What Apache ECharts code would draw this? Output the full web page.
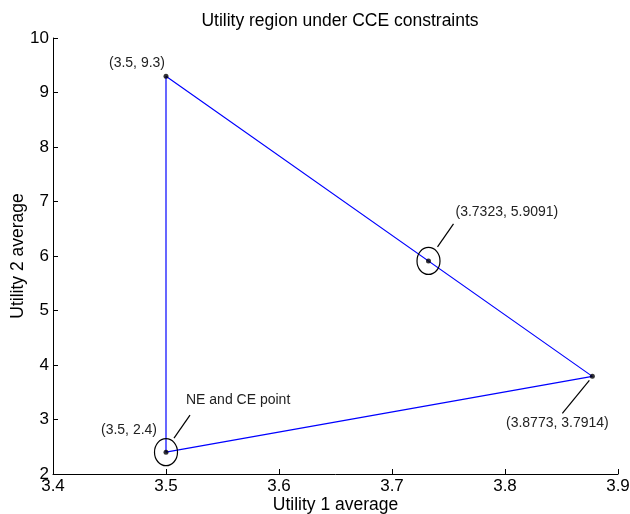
<!DOCTYPE html>
<html>
<head>
<meta charset="utf-8">
<script src="https://cdn.jsdelivr.net/npm/echarts@6/dist/echarts.min.js"></script>
<style>html,body{margin:0;padding:0;background:#fff}#c{width:630px;height:514px}</style>
</head>
<body>
<div id="c"></div>
<script>
// Data
const triangleX = [3.5, 3.8773, 3.5, 3.5];
const triangleY = [9.3, 3.7914, 2.4, 9.3];
const pointX = [3.5, 3.8773, 3.5, 3.7323];
const pointY = [9.3, 3.7914, 2.4, 5.9091];
const pointLabels = ['(3.5, 9.3)', '(3.8773, 3.7914)', '(3.5, 2.4)', '(3.7323, 5.9091)'];
const noteX = [3.5];
const noteY = [2.4];
const noteLabels = ['NE and CE point'];
const xTicks = [3.4, 3.5, 3.6, 3.7, 3.8, 3.9];
const yTicks = [2, 3, 4, 5, 6, 7, 8, 9, 10];

const FONT = 'Liberation Sans, Arial, Helvetica, sans-serif';

// per-point annotation styles (pixel offsets)
const annStyle = [
  { ellipse: false, line: null, text: [-29, -13], align: 'center' },
  { ellipse: false, line: [-3, 4, -30, 37], text: [-35, 47], align: 'center' },
  { ellipse: true,  line: null, text: [-37, -22], align: 'center' },
  { ellipse: true,  line: [9, -14, 25, -37], text: [27, -49], align: 'left' }
];
const noteStyle = [{ line: [8, -14, 24, -37], text: [20, -52], align: 'left' }];

const chart = echarts.init(document.getElementById('c'), null, { renderer: 'canvas' });

function annItem(params, api, st, label) {
  const p = api.coord([api.value(0), api.value(1)]);
  const children = [];
  if (st.ellipse) {
    children.push({ type: 'ellipse', shape: { cx: p[0], cy: p[1], rx: 11.5, ry: 13.5 },
      style: { fill: null, stroke: '#000', lineWidth: 1.2 } });
  }
  if (st.line) {
    children.push({ type: 'line', shape: { x1: p[0] + st.line[0], y1: p[1] + st.line[1], x2: p[0] + st.line[2], y2: p[1] + st.line[3] },
      style: { stroke: '#000', lineWidth: 1.2 } });
  }
  children.push({ type: 'text', x: p[0] + st.text[0], y: p[1] + st.text[1],
    style: { text: label, fill: '#222', font: '14px ' + FONT, textAlign: st.align, textVerticalAlign: 'middle' } });
  return { type: 'group', children };
}

const option = {
  animation: false,
  backgroundColor: '#fff',
  title: { text: 'Utility region under CCE constraints', left: 335, textAlign: 'center', top: 7,
    textStyle: { fontSize: 17.5, fontWeight: 'normal', color: '#000', fontFamily: FONT } },
  grid: { left: 53, right: 12, top: 38, bottom: 40, containLabel: false, outerBoundsMode: 'none' },
  xAxis: {
    type: 'value', min: xTicks[0], max: xTicks[xTicks.length - 1], interval: 0.1,
    name: 'Utility 1 average', nameLocation: 'middle', nameGap: 22, nameMoveOverlap: false,
    nameTextStyle: { fontSize: 17.5, color: '#000', fontFamily: FONT },
    axisLine: { show: true, lineStyle: { color: '#000', width: 1 } },
    axisTick: { show: true, inside: true, length: 5, lineStyle: { color: '#000' } },
    axisLabel: { fontSize: 17, color: '#000', fontFamily: FONT, margin: 4, formatter: v => v.toFixed(1) },
    splitLine: { show: false }
  },
  yAxis: {
    type: 'value', min: yTicks[0], max: yTicks[yTicks.length - 1], interval: 1,
    name: 'Utility 2 average', nameLocation: 'middle', nameGap: 26, nameRotate: 90, nameMoveOverlap: false,
    nameTextStyle: { fontSize: 17.5, color: '#000', fontFamily: FONT },
    axisLine: { show: true, lineStyle: { color: '#000', width: 1 } },
    axisTick: { show: true, inside: true, length: 5, lineStyle: { color: '#000' } },
    axisLabel: { fontSize: 17, color: '#000', fontFamily: FONT, margin: 4 },
    splitLine: { show: false }
  },
  series: [
    { type: 'line', data: triangleX.map((x, i) => [x, triangleY[i]]), symbol: 'none',
      lineStyle: { color: '#0000ff', width: 1.2 }, z: 2 },
    { type: 'scatter', data: pointX.map((x, i) => [x, pointY[i]]), symbolSize: 5,
      itemStyle: { color: '#000' }, z: 4 },
    { type: 'custom', data: pointX.map((x, i) => [x, pointY[i]]), z: 5,
      renderItem: (params, api) => annItem(params, api, annStyle[params.dataIndex], pointLabels[params.dataIndex]) },
    { type: 'custom', data: noteX.map((x, i) => [x, noteY[i]]), z: 5,
      renderItem: (params, api) => annItem(params, api, noteStyle[params.dataIndex], noteLabels[params.dataIndex]) }
  ]
};
chart.setOption(option);
</script>
</body>
</html>
